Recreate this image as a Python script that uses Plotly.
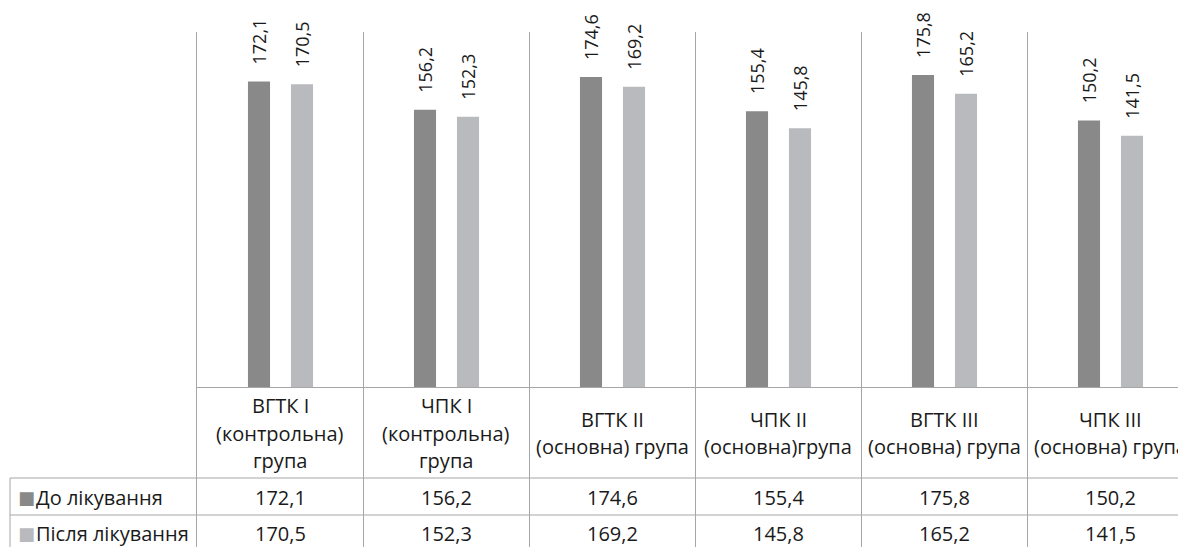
import plotly.graph_objects as go

categories = [
    ["ВГТК I", "(контрольна)", "група"],
    ["ЧПК I", "(контрольна)", "група"],
    ["ВГТК II", "(основна) група"],
    ["ЧПК II", "(основна)група"],
    ["ВГТК III", "(основна) група"],
    ["ЧПК III", "(основна) група"],
]
series_names = ["До лікування", "Після лікування"]
before = [172.1, 156.2, 174.6, 155.4, 175.8, 150.2]
after = [170.5, 152.3, 169.2, 145.8, 165.2, 141.5]

W, H = 1178, 547
TOP = 32
DARK = "#898989"
LIGHT = "#b9babd"
GRID = "#a6a6a6"
TXT = "#1a1a1a"
FONT = "Open Sans"

xs = list(range(len(categories)))
fig = go.Figure()
for name, vals, col, off in [(series_names[0], before, DARK, -0.193),
                             (series_names[1], after, LIGHT, 0.066)]:
    fig.add_trace(go.Bar(
        x=xs, y=vals, name=name, marker=dict(color=col, line=dict(width=0)),
        width=0.133, offset=off,
        texttemplate="\u00a0\u00a0\u00a0%{y:.1f}", textposition="outside",
        textangle=-90, constraintext="none", cliponaxis=False,
        textfont=dict(family=FONT, size=18, color=TXT),
        showlegend=False,
    ))

plot_h = H - TOP
base_px = 387                 # y=0 baseline, pixels from top
px_per_unit = (base_px - TOP) / 200
ymin = -(H - base_px) / px_per_unit
x0_px = 197
cat_px = 166
xmax = -0.5 + (W - x0_px) / cat_px

fig.update_layout(
    width=W, height=H, margin=dict(l=0, r=0, t=TOP, b=0),
    paper_bgcolor="white", plot_bgcolor="white",
    separators=", ",
    barmode="overlay",
    font=dict(family=FONT, color=TXT, size=20),
    xaxis=dict(domain=[x0_px / W, 1], range=[-0.5, xmax],
               tickvals=[i - 0.5 for i in range(len(categories) + 1)],
               showticklabels=False, ticks="", showgrid=True,
               gridcolor=GRID, gridwidth=1, zeroline=False, showline=False),
    yaxis=dict(range=[ymin, 200], showgrid=False, showticklabels=False,
               ticks="", zeroline=True, zerolinecolor=GRID, zerolinewidth=1,
               showline=True, linecolor=GRID, linewidth=1),
)

def py(pix):
    return (H - pix) / plot_h

def pxp(pix):
    return pix / W

# table horizontal lines
for pix in [478, 515]:
    fig.add_shape(type="line", xref="paper", yref="paper",
                  x0=pxp(10), x1=1, y0=py(pix), y1=py(pix),
                  line=dict(color=GRID, width=1))
fig.add_shape(type="line", xref="paper", yref="paper",
              x0=pxp(10), x1=pxp(10), y0=py(478), y1=0,
              line=dict(color=GRID, width=1))

# category header labels
line_gap = 27.5
for i, lines in enumerate(categories):
    n = len(lines)
    for j, ln in enumerate(lines):
        yc = 433 + (j - (n - 1) / 2) * line_gap
        fig.add_annotation(x=i, xref="x", y=py(yc), yref="paper", text=ln,
                           showarrow=False, xanchor="center", yanchor="middle",
                           font=dict(family=FONT, size=20, color=TXT))

# data table rows
rows = [(series_names[0], before, DARK, 497), (series_names[1], after, LIGHT, 533)]
for name, vals, col, yc in rows:
    fig.add_annotation(x=pxp(16), xref="paper", y=py(yc), yref="paper",
                       text="■", showarrow=False, xanchor="left", yanchor="middle",
                       font=dict(family="DejaVu Sans", size=18, color=col))
    fig.add_annotation(x=pxp(34), xref="paper", y=py(yc), yref="paper",
                       text=name, showarrow=False, xanchor="left", yanchor="middle",
                       font=dict(family=FONT, size=20, color=TXT))
    for i, v in enumerate(vals):
        fig.add_annotation(x=i, xref="x", y=py(yc), yref="paper",
                           text=f"{v:.1f}".replace(".", ","), showarrow=False,
                           xanchor="center", yanchor="middle",
                           font=dict(family=FONT, size=20, color=TXT))

fig.write_html(
    "out.html",
    config={"displayModeBar": False},
    post_script="document.body.style.margin='0';document.body.style.overflow='hidden';",
)
